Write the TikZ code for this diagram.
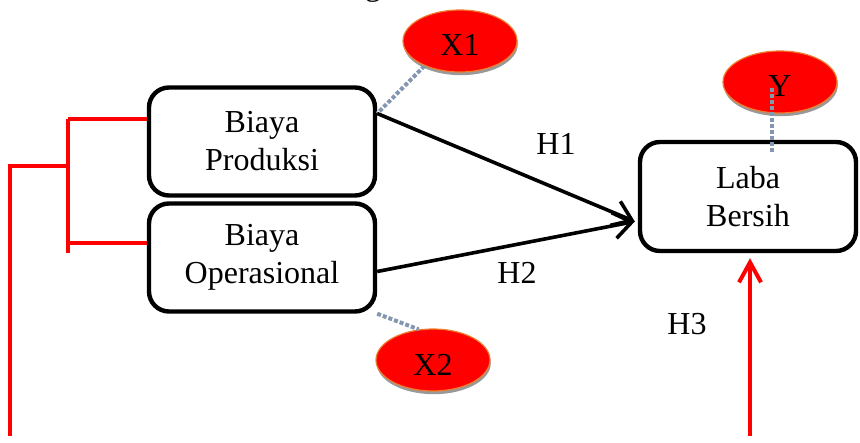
\documentclass[tikz,border=0pt]{standalone}
\usepackage{fontspec}
\setmainfont{Liberation Serif}
\usetikzlibrary{arrows.meta,shapes.geometric,shadows,calc}
\definecolor{garis}{HTML}{8497B0}
\definecolor{tepi}{HTML}{ED7D31}
\begin{document}
\begin{tikzpicture}[x=0.5pt,y=-0.5pt,
            teks/.style={font=\fontsize{16}{19}\selectfont},
            kotak/.style={teks,draw,line width=2.2pt,rounded corners=10pt,align=center},
            bulat/.style={teks,ellipse,fill=red,draw=tepi,line width=0.6pt,minimum width=57pt,minimum height=31pt,inner sep=0pt,text height=15pt,text depth=0pt,drop shadow={shadow xshift=0.4pt,shadow yshift=-1.6pt,fill=gray!80,opacity=1}},
            panah/.style={line width=1.8pt,-{Straight Barb[length=9pt,width=13pt,line width=1.8pt]}},
            merah/.style={red,line width=2pt},
            titik/.style={garis,line width=2pt,dash pattern=on 2pt off 1pt}]
            \useasboundingbox (0,0) rectangle (860,443);
            \node[teks,anchor=base] (judul) at (373,-4) {g};
            \node[kotak,minimum width=113pt,minimum height=54pt] (prod) at (262,141.5) {Biaya\\Produksi};
            \node[kotak,minimum width=113pt,minimum height=54pt] (oper) at (262,257.5) {Biaya\\Operasional};
            \node[kotak,minimum width=108pt,minimum height=54.5pt] (laba) at (748,196.5) {Laba\\Bersih};
            \node[bulat] (x1) at (460,41) {X1};
            \node[bulat] (yv) at (780,82) {Y};
            \node[bulat] (x2) at (433,360) {X2};
            \node[teks] (h1) at (556,144) {H1};
            \node[teks] (h2) at (517,273) {H2};
            \node[teks] (h3) at (687,324) {H3};
            \draw[titik] (x1.215) -- ($(prod.east)+(0,-28)$);
            \draw[titik] (oper.south east) -- (x2.115);
            \draw[titik] ($(yv.center)+(-8,6)$) -- ($(laba.north)+(24,13)$);
            \draw[panah] ($(prod.east)+(0,-28)$) -- ($(laba.west)+(-3,25)$);
            \draw[panah] ($(oper.east)+(0,14)$) -- ($(laba.west)+(-3,25)$);
            \coordinate (kiri) at (10,436);
            \coordinate (cabang) at (68,166);
            \coordinate (atas) at (68,119);
            \coordinate (bawah) at (68,253);
            \coordinate (tengah) at (68,243);
            \coordinate (kanan) at (750,436);
            \draw[merah] (kiri) -- (kiri |- cabang) -- (cabang);
            \draw[merah] (atas) -- (bawah);
            \draw[merah] (atas) -- (atas -| prod.west);
            \draw[merah] (tengah) -- (tengah -| oper.west);
            \draw[merah,-{Straight Barb[length=10pt,width=11pt,line width=2pt]},shorten >=2.5pt] (kanan) -- (kanan |- laba.south);
        \end{tikzpicture}
\end{document}
